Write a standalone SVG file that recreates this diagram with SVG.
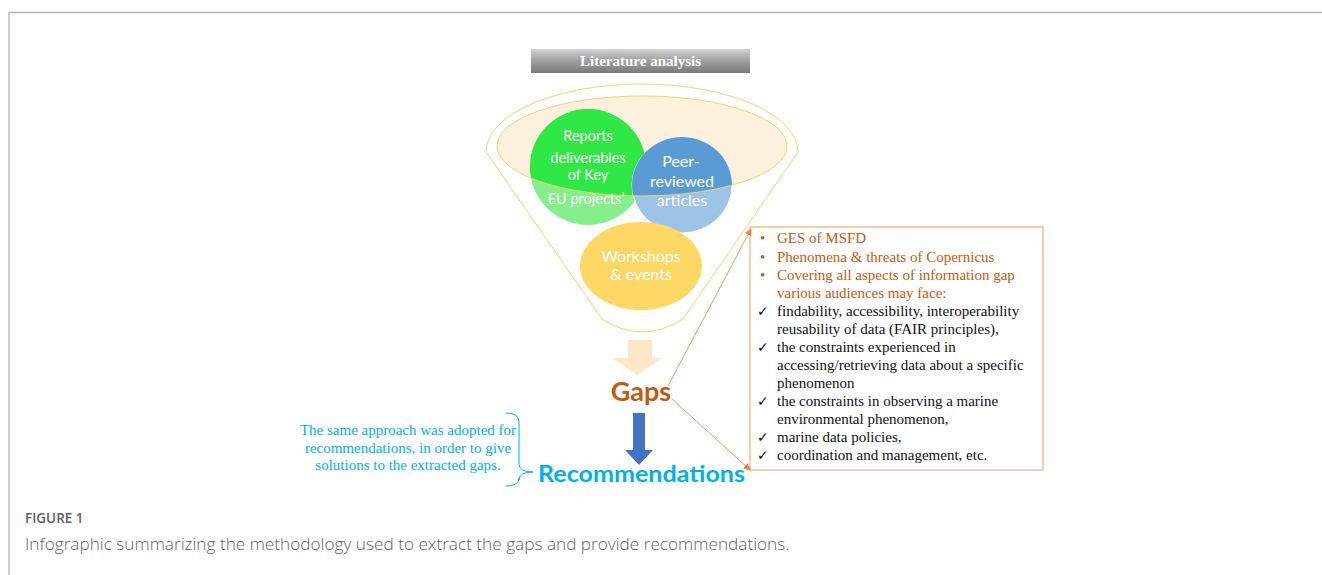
<svg xmlns="http://www.w3.org/2000/svg" width="1322" height="575" viewBox="0 0 1322 575">
<style>
.frame{stroke:#b4b4b4;stroke-width:1.3;fill:none}
.hdr{font-family:"Liberation Serif",serif;font-weight:bold;font-size:15px;fill:#fff;text-anchor:middle}
.cw{font-family:Lato,"Open Sans",sans-serif;fill:#fff;text-anchor:middle}
.fun{stroke:#f2d36f;stroke-width:1;fill:none}
.box{font-family:"Liberation Serif",serif;font-size:15px}
.or{fill:#c55a11}
.bk{fill:#111}
.chk{font-family:"DejaVu Sans",sans-serif;font-size:14px;fill:#111}
.conn{stroke:#ed7d31;stroke-width:0.8;fill:none}
.cap{font-family:"Open Sans",sans-serif;fill:#5f5f5f}
.note{font-family:"Liberation Serif",serif;font-size:15px;fill:#00b0f0;text-anchor:middle}
</style>
<defs>
<linearGradient id="hg" x1="0" y1="0" x2="0" y2="1">
<stop offset="0" stop-color="#d2d2d2"/>
<stop offset="0.5" stop-color="#9e9e9e"/>
<stop offset="1" stop-color="#7a7a7a"/>
</linearGradient>
<clipPath id="inner"><ellipse cx="642" cy="146" rx="145" ry="50"/></clipPath>
<marker id="ah" viewBox="0 0 10 10" refX="9" refY="5" markerWidth="7" markerHeight="7" orient="auto" markerUnits="userSpaceOnUse">
<path d="M0,0 L10,5 L0,10 Z" fill="#ed7d31"/>
</marker>
</defs>

<g id="frame">
<path class="frame" d="M9,575 L9,12.5 L1322,12.5"/>
</g>

<g id="header">
<rect x="531" y="49" width="219" height="24" fill="url(#hg)"/>
<text class="hdr" x="640.5" y="66">Literature analysis</text>
</g>

<g id="funnel">
<path class="fun" d="M486,152 A156,68 0 0 1 798,152 L683,319 Q642,345 602,319 Z"/>
<ellipse cx="642" cy="146" rx="145" ry="50" fill="#fdf1de"/>
</g>

<g id="node-reports">
<circle cx="588" cy="167" r="58" fill="#86ef8c"/>
<circle cx="588" cy="167" r="58" fill="#2fe745" clip-path="url(#inner)"/>
<text class="cw" font-size="14.5" x="588" y="141">Reports</text>
<text class="cw" font-size="14.5" x="588" y="163">deliverables</text>
<text class="cw" font-size="14.5" x="588" y="180">of Key</text>
<text class="cw" font-size="14.5" x="586" y="204">EU projects’</text>
</g>

<g id="node-peer">
<ellipse cx="682" cy="185" rx="50" ry="48" fill="#9dc3e6" stroke="#ffffff" stroke-width="1"/>
<ellipse cx="682" cy="185" rx="50" ry="48" fill="#5b9bd5" clip-path="url(#inner)"/>
<text class="cw" font-size="16" x="681" y="167">Peer-</text>
<text class="cw" font-size="16" x="682" y="187">reviewed</text>
<text class="cw" font-size="16" x="682" y="206">articles</text>
</g>

<ellipse cx="642" cy="146" rx="145" ry="50" class="fun"/>

<g id="node-workshops">
<ellipse cx="641" cy="266" rx="61" ry="44" fill="#fdd865"/>
<text class="cw" font-size="16" x="641" y="262">Workshops</text>
<text class="cw" font-size="16" x="641" y="280">&amp; events</text>
</g>

<g id="arrow-to-gaps">
<polygon points="628,340 652,340 652,358 662,358 637,375 612,358 628,358" fill="#fde7c9"/>
</g>

<g id="node-gaps">
<text x="641" y="401" font-family="Lato,'Open Sans',sans-serif" font-weight="bold" font-size="27" fill="#c55a11" text-anchor="middle">Gaps</text>
</g>

<g id="arrow-to-recs">
<polygon points="633,413 645,413 645,450 653,450 639,465 625,450 633,450" fill="#4472c4"/>
</g>

<g id="node-recommendations">
<text x="538" y="482" font-family="Lato,'Open Sans',sans-serif" font-weight="bold" font-size="23" fill="#00b0f0" textLength="207" lengthAdjust="spacingAndGlyphs">Recommendations</text>
</g>

<g id="node-note">
<text class="note" x="408" y="435">The same approach was adopted for</text>
<text class="note" x="408" y="453">recommendations, in order to give</text>
<text class="note" x="408" y="470">solutions to the extracted gaps.</text>
<path d="M506,413 Q519,413 519,422 L519,464 Q519,472 533,472 Q519,472 519,480 L519,478 Q519,486 506,486" fill="none" stroke="#00b0f0" stroke-width="1"/>
</g>

<g id="node-box">
<rect x="750" y="227" width="293" height="243" fill="#fff" stroke="#f4b183" stroke-width="1.3"/>
<g class="box">
<text class="or" x="760" y="243">•</text><text class="or" x="777" y="243">GES of MSFD</text>
<text class="or" x="760" y="262">•</text><text class="or" x="777" y="262">Phenomena &amp; threats of Copernicus</text>
<text class="or" x="760" y="280">•</text><text class="or" x="777" y="280">Covering all aspects of information gap</text>
<text class="or" x="777" y="298">various audiences may face:</text>
<text class="chk" x="757" y="316">✓</text><text class="bk" x="777" y="316">findability, accessibility, interoperability</text>
<text class="bk" x="777" y="334">reusability of data (FAIR principles),</text>
<text class="chk" x="757" y="352">✓</text><text class="bk" x="777" y="352">the constraints experienced in</text>
<text class="bk" x="777" y="370">accessing/retrieving data about a specific</text>
<text class="bk" x="777" y="388">phenomenon</text>
<text class="chk" x="757" y="406">✓</text><text class="bk" x="777" y="406">the constraints in observing a marine</text>
<text class="bk" x="777" y="424">environmental phenomenon,</text>
<text class="chk" x="757" y="442">✓</text><text class="bk" x="777" y="442">marine data policies,</text>
<text class="chk" x="757" y="460">✓</text><text class="bk" x="777" y="460">coordination and management, etc.</text>
</g>
</g>

<g id="connectors">
<line class="conn" x1="668" y1="386" x2="751" y2="229" marker-end="url(#ah)"/>
<line class="conn" x1="672" y1="399" x2="750" y2="470" marker-end="url(#ah)"/>
</g>

<g id="caption">
<text class="cap" x="25" y="523" font-size="13.5" font-weight="600">FIGURE 1</text>
<text class="cap" x="25" y="550" font-size="17.2" font-weight="300">Infographic summarizing the methodology used to extract the gaps and provide recommendations.</text>
</g>
</svg>
